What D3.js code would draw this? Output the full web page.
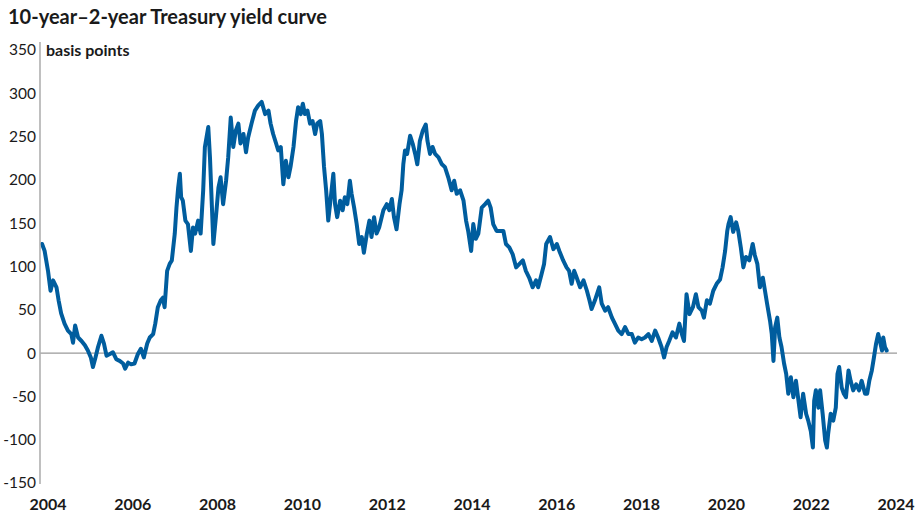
<!DOCTYPE html>
<html>
<head>
<meta charset="utf-8">
<script src="https://cdn.jsdelivr.net/npm/d3@7"></script>
<style>
  html, body { margin: 0; padding: 0; background: #fff; }
  svg { display: block; }
</style>
</head>
<body>
<svg id="chart" width="916" height="520"></svg>
<script>
// ---- Data (decimal years as placed on the chart's axis, spread in basis points) ----
const title = "10-year\u20132-year Treasury yield curve";
const unitLabel = "basis points";
const yTicks = [-150, -100, -50, 0, 50, 100, 150, 200, 250, 300, 350];
const xTickYears = [2004, 2006, 2008, 2010, 2012, 2014, 2016, 2018, 2020, 2022, 2024];

const dates = [
  2003.86,2003.92,2004.00,2004.06,2004.12,2004.20,2004.25,2004.31,2004.39,2004.47,
  2004.55,2004.59,2004.64,2004.71,2004.79,2004.87,2004.94,2005.01,2005.06,2005.12,
  2005.18,2005.26,2005.32,2005.38,2005.46,2005.53,2005.61,2005.69,2005.77,2005.82,
  2005.89,2005.96,2006.04,2006.12,2006.19,2006.26,2006.34,2006.40,2006.48,2006.53,
  2006.59,2006.66,2006.71,2006.75,2006.81,2006.87,2006.92,2006.99,2007.03,2007.07,
  2007.11,2007.14,2007.18,2007.24,2007.30,2007.37,2007.42,2007.47,2007.54,2007.60,
  2007.66,2007.70,2007.78,2007.82,2007.86,2007.90,2007.96,2008.02,2008.07,2008.13,
  2008.20,2008.25,2008.31,2008.37,2008.43,2008.49,2008.54,2008.61,2008.67,2008.72,
  2008.80,2008.88,2008.96,2009.04,2009.12,2009.20,2009.25,2009.31,2009.38,2009.43,
  2009.49,2009.55,2009.61,2009.67,2009.72,2009.79,2009.85,2009.90,2009.96,2010.01,
  2010.06,2010.12,2010.18,2010.24,2010.30,2010.35,2010.42,2010.46,2010.51,2010.56,
  2010.61,2010.67,2010.73,2010.77,2010.82,2010.89,2010.95,2011.00,2011.06,2011.12,
  2011.16,2011.22,2011.28,2011.34,2011.40,2011.45,2011.52,2011.58,2011.63,2011.69,
  2011.75,2011.81,2011.91,2011.99,2012.05,2012.11,2012.16,2012.22,2012.29,2012.34,
  2012.38,2012.42,2012.47,2012.54,2012.60,2012.66,2012.71,2012.77,2012.84,2012.91,
  2012.95,2013.01,2013.07,2013.13,2013.21,2013.29,2013.36,2013.44,2013.52,2013.58,
  2013.64,2013.72,2013.80,2013.86,2013.91,2013.98,2014.03,2014.09,2014.15,2014.23,
  2014.31,2014.38,2014.44,2014.50,2014.58,2014.68,2014.74,2014.80,2014.88,2014.96,
  2015.04,2015.12,2015.20,2015.27,2015.35,2015.43,2015.51,2015.56,2015.64,2015.70,
  2015.75,2015.84,2015.92,2016.00,2016.06,2016.15,2016.23,2016.29,2016.35,2016.41,
  2016.47,2016.55,2016.63,2016.71,2016.77,2016.82,2016.90,2017.00,2017.06,2017.14,
  2017.21,2017.30,2017.37,2017.45,2017.53,2017.61,2017.69,2017.77,2017.84,2017.92,
  2018.00,2018.08,2018.16,2018.24,2018.32,2018.39,2018.47,2018.53,2018.59,2018.65,
  2018.73,2018.81,2018.89,2018.95,2019.00,2019.06,2019.13,2019.21,2019.28,2019.34,
  2019.42,2019.47,2019.54,2019.61,2019.69,2019.77,2019.85,2019.91,2019.97,2020.02,
  2020.05,2020.10,2020.16,2020.23,2020.28,2020.34,2020.40,2020.46,2020.54,2020.62,
  2020.67,2020.73,2020.79,2020.86,2020.91,2020.96,2021.03,2021.07,2021.11,2021.15,
  2021.20,2021.25,2021.30,2021.36,2021.41,2021.46,2021.52,2021.58,2021.64,2021.70,
  2021.75,2021.81,2021.88,2021.93,2021.99,2022.04,2022.07,2022.11,2022.17,2022.21,
  2022.27,2022.33,2022.37,2022.40,2022.46,2022.52,2022.58,2022.62,2022.66,2022.72,
  2022.77,2022.82,2022.88,2022.93,2022.99,2023.06,2023.13,2023.19,2023.27,2023.32,
  2023.37,2023.43,2023.48,2023.53,2023.58,2023.62,2023.67,2023.70,2023.74,2023.78
];

const spread = [
  126,118,95,72,84,76,61,46,34,26,
  22,12,32,18,14,9,3,-5,-16,-5,
  7,20,11,-3,-1,1,-7,-9,-12,-18,
  -11,-13,-12,-1,5,-5,11,18,22,34,
  53,61,64,53,95,103,107,138,168,191,
  207,180,176,153,149,118,145,138,153,138,
  188,238,261,226,176,126,157,191,203,172,
  199,226,272,238,257,265,242,253,232,249,
  265,280,286,290,276,280,265,253,242,234,
  238,195,222,203,215,238,268,284,276,288,
  276,280,265,268,253,265,268,253,215,188,
  153,180,207,172,157,176,165,180,172,199,
  184,168,149,126,134,116,138,153,134,157,
  138,145,165,172,165,178,157,143,172,188,
  218,234,230,251,242,230,218,245,257,264,
  245,230,238,230,226,218,215,203,188,199,
  184,188,176,153,141,118,149,132,138,168,
  172,176,168,149,141,141,141,126,122,114,
  99,103,107,95,87,76,84,76,91,103,
  126,134,120,126,118,107,99,95,80,95,
  87,76,84,72,61,51,61,76,57,49,
  53,41,34,26,22,30,22,22,12,18,
  16,18,22,14,26,18,7,-5,7,14,
  24,18,34,22,14,68,45,53,68,53,
  49,41,61,57,72,80,85,99,118,141,
  149,157,140,151,141,122,99,111,107,126,
  113,103,76,87,72,57,37,22,-9,30,
  41,18,7,-12,-24,-47,-28,-51,-32,-55,
  -74,-47,-70,-78,-90,-109,-55,-43,-63,-43,
  -70,-101,-109,-93,-70,-78,-63,-24,-16,-40,
  -47,-51,-20,-32,-43,-36,-43,-32,-47,-47,
  -32,-20,-5,11,22,14,3,18,7,3
];

// ---- Layout ----
const svg = d3.select("#chart");
const axisX = 40;
const x = d3.scaleLinear().domain([2004, 2024]).range([48, 896]);
const y = d3.scaleLinear().domain([-150, 350]).range([483, 50]);

const FONT = "Lato, 'Open Sans', sans-serif";

// Title
svg.append("text")
  .attr("x", 8).attr("y", 24)
  .attr("font-family", FONT)
  .attr("font-weight", 700)
  .attr("font-size", 20)
  .attr("fill", "#1a1a1a")
  .text(title);

// Y axis labels
svg.append("g").selectAll("text")
  .data(yTicks)
  .join("text")
  .attr("x", 36)
  .attr("y", d => y(d))
  .attr("dy", "0.35em")
  .attr("text-anchor", "end")
  .attr("font-family", FONT)
  .attr("font-size", 15.5)
  .attr("fill", "#1a1a1a")
  .text(d => d);

// Unit label
svg.append("text")
  .attr("x", 46).attr("y", y(350))
  .attr("dy", "0.35em")
  .attr("font-family", FONT)
  .attr("font-weight", 700)
  .attr("font-size", 16)
  .attr("fill", "#1a1a1a")
  .text(unitLabel);

// Zero line
svg.append("line")
  .attr("x1", axisX).attr("x2", 897)
  .attr("y1", y(0)).attr("y2", y(0))
  .attr("stroke", "#9a9a9a").attr("stroke-width", 1.2);

// Data line
const line = d3.line()
  .x((d, i) => x(dates[i]))
  .y(d => y(d))
  .curve(d3.curveLinear);

svg.append("path")
  .datum(spread)
  .attr("d", line)
  .attr("fill", "none")
  .attr("stroke", "#005d9e")
  .attr("stroke-width", 4)
  .attr("stroke-linejoin", "round")
  .attr("stroke-linecap", "round");

// Y axis line
svg.append("line")
  .attr("x1", axisX).attr("x2", axisX)
  .attr("y1", 42).attr("y2", 484)
  .attr("stroke", "#b0b0b0").attr("stroke-width", 1.6);

// X labels
svg.append("g").selectAll("text")
  .data(xTickYears)
  .join("text")
  .attr("x", d => x(d))
  .attr("y", 510)
  .attr("text-anchor", "middle")
  .attr("font-family", FONT)
  .attr("font-weight", 700)
  .attr("font-size", 16)
  .attr("fill", "#1a1a1a")
  .text(d => d);
</script>
</body>
</html>
